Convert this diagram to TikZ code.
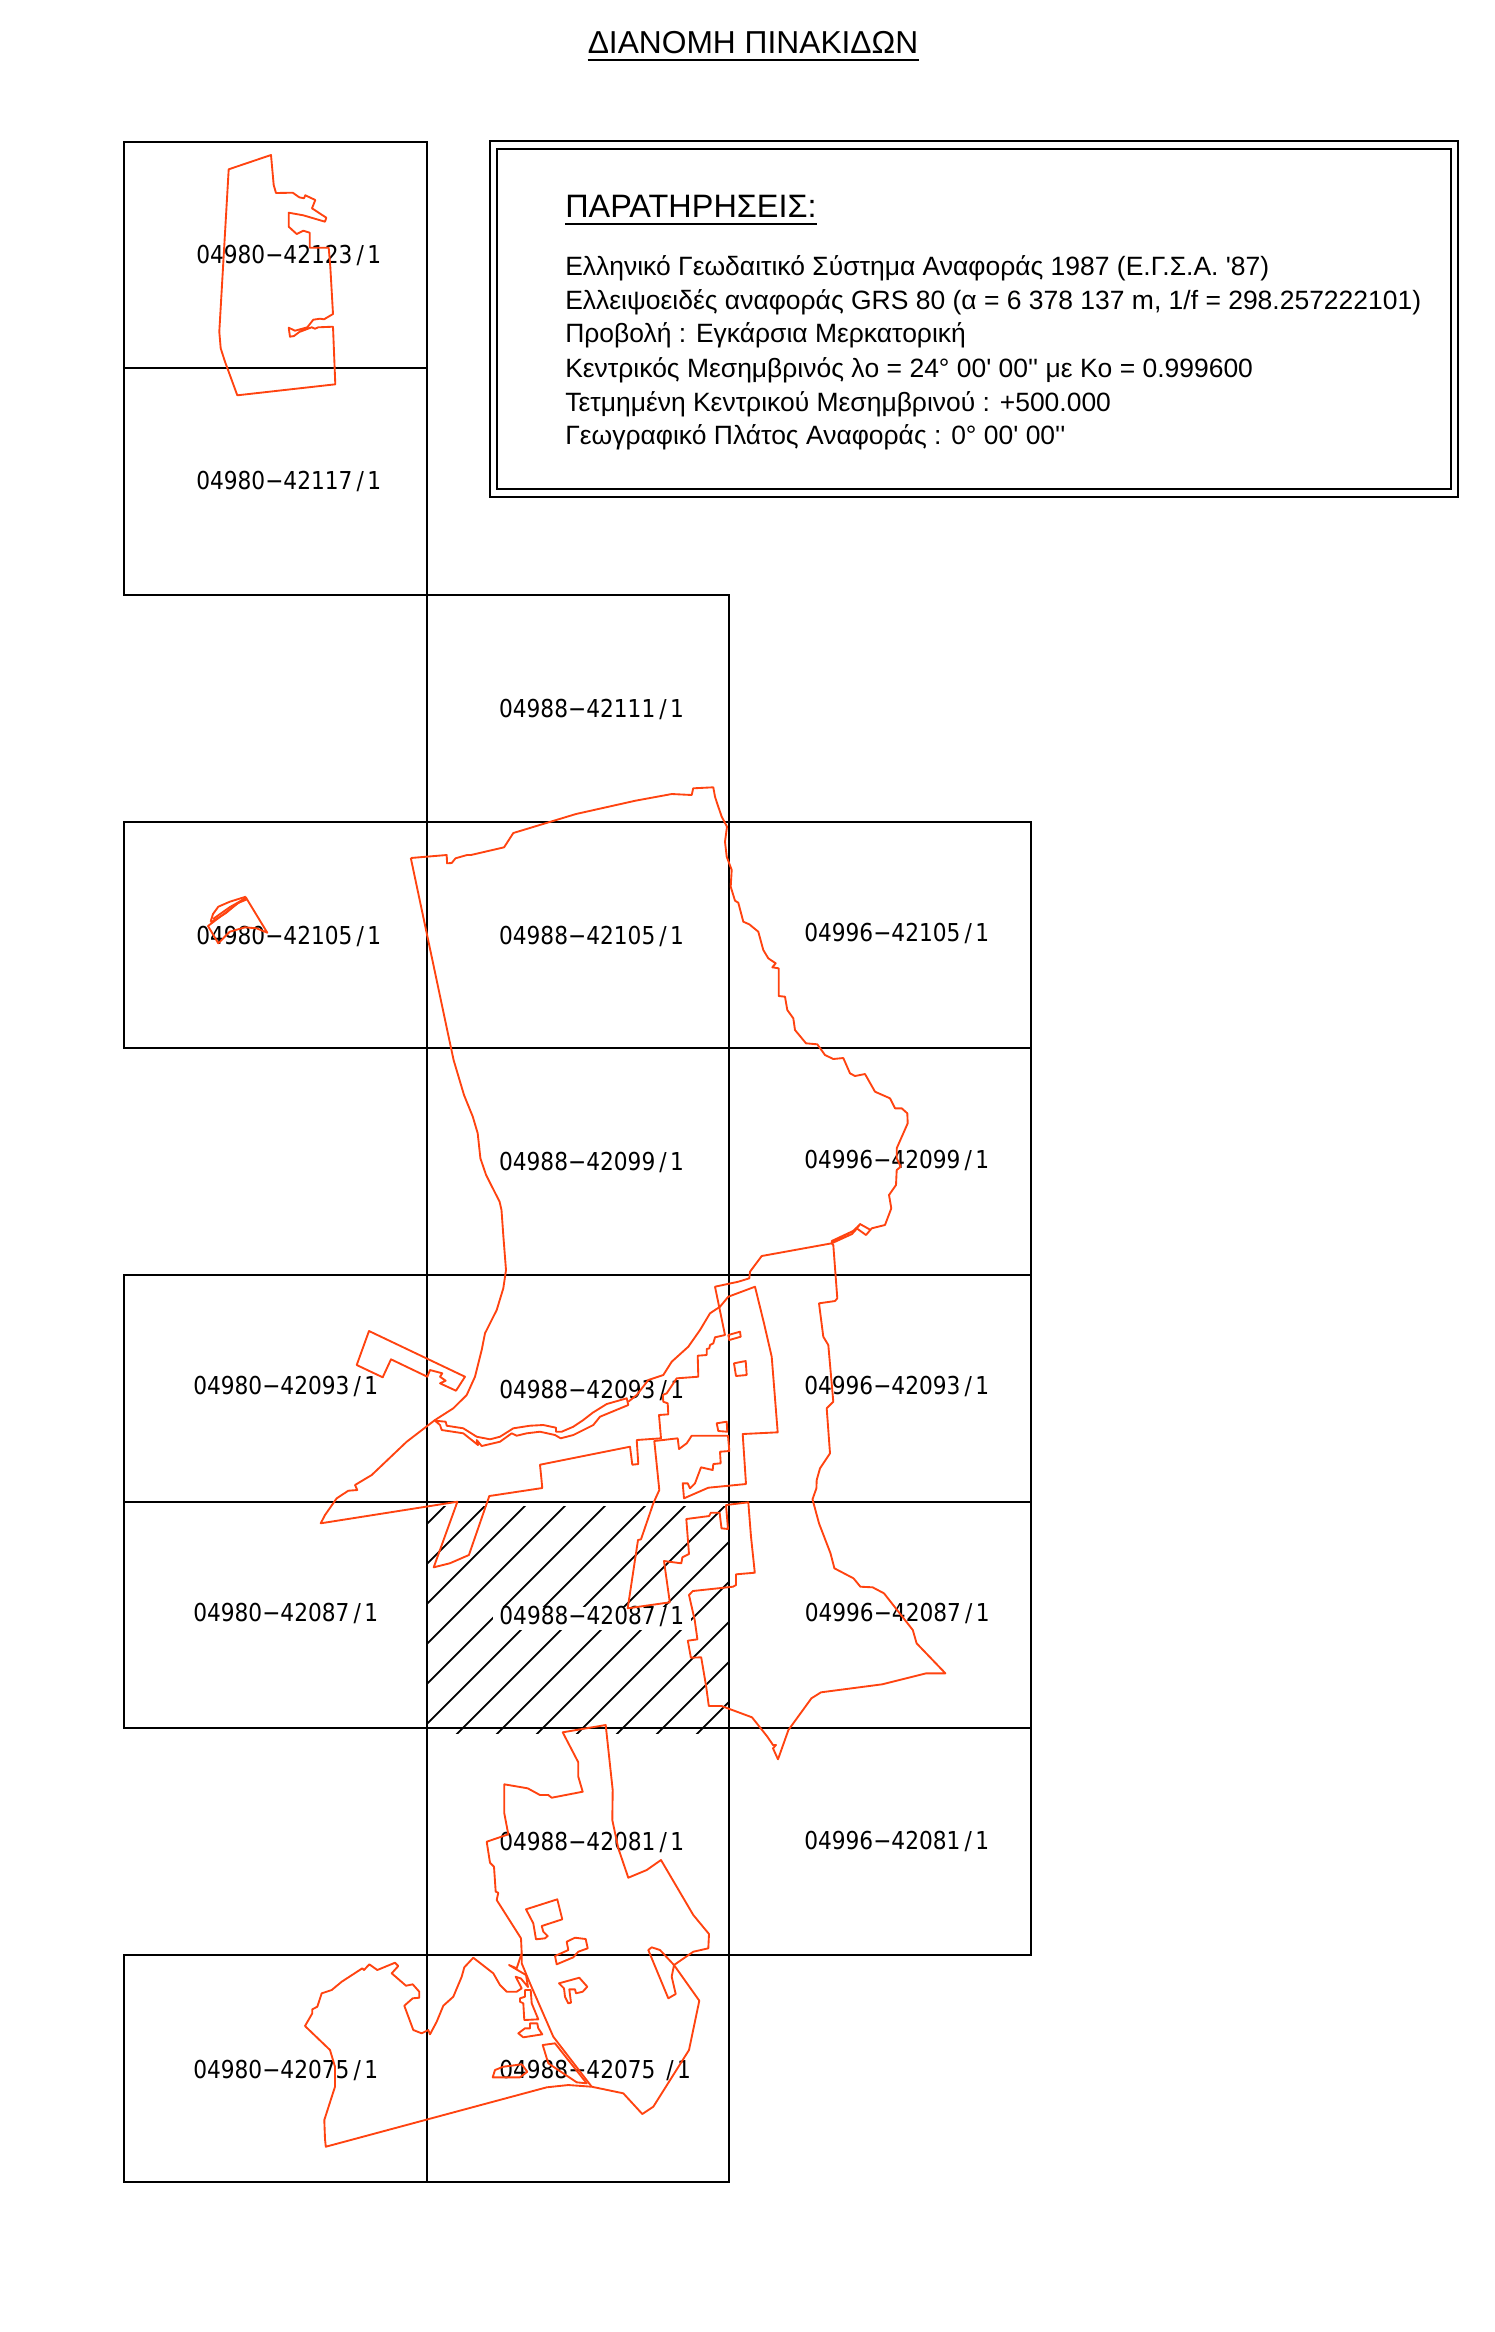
\documentclass[tikz,border=0pt]{standalone}
\usepackage{fontspec}
\newfontfamily\notefont{Liberation Sans}
\newfontfamily\cadfont[FakeStretch=0.88]{DejaVu Sans}
\definecolor{borderred}{HTML}{FF4310}
\newcommand{\sheetno}[1]{#1\hspace{3pt}/\hspace{2.6pt}1}
\tikzset{
  sheet/.style={draw=black,line width=1.5pt},
  hatchline/.style={draw=black,line width=1.4pt},
  border/.style={draw=borderred,line width=1.4pt,line join=round},
  sheetlabel/.style={anchor=base west,yshift=-6.75pt,inner sep=0pt,font=\cadfont\fontsize{18.5}{22}\selectfont},
  notetext/.style={anchor=base west,inner sep=0pt,font=\notefont\fontsize{19.85}{24}\selectfont},
  headtext/.style={anchor=base west,inner sep=0pt,font=\notefont\fontsize{24.3}{28}\selectfont},
  titletext/.style={anchor=base west,inner sep=0pt,font=\notefont\fontsize{23.8}{28}\selectfont}
}
\begin{document}
\begin{tikzpicture}[x=0.75pt,y=-0.75pt]
    \useasboundingbox (0,0) rectangle (1495,2332);
    %Title
    \node[titletext] (title) at (587.5,53) {ΔΙΑΝΟΜΗ ΠΙΝΑΚΙΔΩΝ};
    \draw[line width=1.4pt] ([yshift=-5pt]title.base west)--([yshift=-5pt]title.base east);
    %Sheets
    \foreach \x/\y in{
    124.2/141.5, 124.2/368.2, 426.5/594.9, 124.2/821.6, 426.5/821.6, 728.8/821.6,
    426.5/1048.3, 728.8/1048.3, 124.2/1275, 426.5/1275, 728.8/1275,
    124.2/1501.7, 426.5/1501.7, 728.8/1501.7, 426.5/1728.4, 728.8/1728.4,
    124.2/1955.1, 426.5/1955.1
    }{\draw[sheet] (\x,\y) rectangle ++(302.3,226.7);}
    %Hatching
    \begin{scope}
    \clip (426.5,1506) rectangle (728.8,1733);
    \foreach \k in {0,...,12}{
    \draw[hatchline] ({1950.8+40*\k-1400},1400)--({1950.8+40*\k-1800},1800);}
    \end{scope}
    %Sheet labels
    \foreach \x/\y/\t [count=\i] in{
    196/254/04980−42123, 196/480.5/04980−42117, 498.8/708/04988−42111,
    196/935/04980−42105, 498.8/935/04988−42105, 804/932/04996−42105,
    498.8/1161.7/04988−42099, 804/1159/04996−42099,
    193/1385/04980−42093, 499/1389/04988−42093, 804/1385.7/04996−42093,
    193/1612.6/04980−42087, 804.5/1612/04996−42087,
    499/1841.7/04988−42081, 804/1840/04996−42081,
    193/2069/04980−42075, 499/2069/04988−42075
    }{\node[sheetlabel] (sheet\i) at (\x,\y) {\sheetno{\t}};}
    \node[sheetlabel,fill=white,inner xsep=5pt,text height=12.75pt,text depth=4.5pt] (hatched) at (492.5,1615) {\sheetno{04988−42087}};
    %Notes box
    \draw[sheet] (489.6,141) rectangle (1457.7,496.7);
    \draw[sheet] (497.2,149) rectangle (1450.7,489);
    \node[headtext] (notehead) at (565,217) {ΠΑΡΑΤΗΡΗΣΕΙΣ:};
    \draw[line width=1.4pt] ([yshift=-5pt]notehead.base west)--([yshift=-5pt]notehead.base east);
    \foreach \y/\t [count=\i] in{
    275.3/{Ελληνικό Γεωδαιτικό Σύστημα Αναφοράς 1987 (Ε.Γ.Σ.Α. '87)},
    309/{Ελλειψοειδές αναφοράς GRS 80 (α = 6 378 137 m, 1/f = 298.257222101)},
    342.7/{Προβολή : Εγκάρσια Μερκατορική},
    377/{Κεντρικός Μεσημβρινός λo = 24° 00' 00'' με Ko = 0.999600},
    411/{Τετμημένη Κεντρικού Μεσημβρινού : +500.000},
    444/{Γεωγραφικό Πλάτος Αναφοράς : 0° 00' 00''}
    }{\node[notetext] (note\i) at (565,\y) {\t};}
    %Top parcel
    \draw[border] (228.7,169.3)--(271,155)--(273.7,185)--(276,193)--(292.7,192.7)--(299.3,197.3)--(304,198.3)--(305.3,195.3)--(315.3,200)--(312,208.3)--(326.3,217.7)--(325,221.7)--(303.3,215.3)--(288.7,212.7)--(288.7,226.7)--(296.7,234)--(303.3,230.7)--(309.7,232.7)--(309.7,247.7)--(328.7,247.7)--(330.3,266.7)--(333,314)--(324,319.3)--(320,318.7)--(313.3,319.7)--(307.3,327.3)--(295,330.7)--(288.7,327.7)--(290,336.7)--(294,336)--(299.3,332)--(311.7,327.3)--(315,328.7)--(318.3,327.3)--(333,326.7)--(335.3,384.3)--(237.3,395.3)--(225,361.7)--(220.7,348.3)--(219.3,331.7)--cycle;
    %Small island
    \draw[border] (208,926)--(245.8,897.3)--(267.3,932.7)--(256.5,928.3)--(245,927.3)--(229.8,931.7)--(218.3,943.3)--cycle;
    \draw[border] (210.6,921.7)--(213,914)--(218.3,906.7)--(229.8,901.7)--(245.8,896.7);
    \draw[border] (210.6,922.5)--(226,913)--(237.4,903.3)--(247,899.3);
    \draw[border] (213,919)--(230,907)--(246,898);
    %North boundary
    \draw[border] (410.8,858)--(446.7,855)--(447.1,863.3)--(451.7,863)--(455.5,858.3)--(467,855)--(470.9,855)--(504.1,847.3)--(513.3,833)--(576,814)--(635.4,800.7)--(671.8,794)--(691.7,795)--(693.2,788.3)--(713.3,787.3)--(715,796.7)--(717.7,805)--(721.7,816.7)--(727,826.7)--(725,841.7)--(726.7,856.7)--(731.7,870)--(730.7,886.7)--(735,900.7)--(738.3,902.7)--(743.3,921.7)--(749.3,924.3)--(758.3,931.7)--(763.3,950)--(768.3,958.3)--(775.7,963.3)--(772.3,967.3)--(778.7,968.3)--(778.7,996)--(785,996.7)--(787.3,1010)--(793.3,1018.3)--(795,1030)--(806,1043.3)--(817.3,1044.3)--(825,1055)--(833.3,1059)--(843.3,1058)--(850,1073.3)--(855,1076)--(865,1074)--(875,1091.7)--(890,1098.3)--(895,1108.3)--(901.7,1108.3)--(907.3,1113.3)--(907.7,1123.3)--(896.7,1148.3)--(896.7,1158.3)--(900.7,1166.7)--(896.7,1170)--(896,1185)--(889,1195)--(891.3,1208.3)--(885,1225)--(871.7,1228.3)--(866,1235)--(856.7,1228.3)--(860,1224)--(870.7,1230);
    \draw[border] (859,1225.5)--(853,1231)--(831.7,1241)--(831.7,1243.3)--(852,1234)--(857,1228.5);
    \draw[border] (831.7,1243.3)--(761.7,1256)--(750,1271.7)--(749.3,1278.3)--(738.3,1281.7)--(715,1286.7)--(725,1335)--(715,1337.3)--(713.3,1343.3)--(710,1345)--(709.3,1348.3)--(706.7,1349)--(706.7,1355)--(697.7,1355.7)--(698.3,1376.7)--(676.7,1378.3)--(666.7,1393.3)--(662.7,1395)--(663.3,1401.7)--(667.7,1403.3)--(668.3,1414.3)--(659,1415)--(661,1438.3)--(636.7,1440)--(638.3,1464)--(632.3,1464.7)--(630,1446.7)--(540,1464.7)--(542.3,1488)--(489.3,1496)--(468.9,1555)--(449.8,1563.3)--(433.7,1567.3)--(457.4,1501.7)--(320.7,1523.3)--(325,1515)--(336.7,1498.3)--(348.3,1490.7)--(357.3,1490)--(355,1485)--(371.7,1475)--(406.7,1441.7)--(435,1420)--(453.3,1408.3)--(466.7,1395)--(475,1376.7)--(481.7,1350)--(485,1333.3)--(496.7,1310)--(503.3,1288.3)--(506,1270)--(503.4,1236.7)--(501.5,1210)--(499.6,1201.7)--(486.1,1175)--(480.4,1158.3)--(477.7,1133.3)--(472.8,1116.7)--(464,1095)--(453.6,1060)--(447.9,1033.3)--(410.8,858);
    %Left block
    \draw[border] (369,1331)--(465,1376.7)--(456,1390.7)--(440,1383.3)--(445.7,1380.7)--(440,1376.7)--(442.3,1373.3)--(430,1370)--(427.3,1376.7)--(391,1359.3)--(382.7,1377.3)--(356.7,1365)--cycle;
    %River strip
    \draw[border] (435,1420.7)--(445.7,1421.7)--(446.7,1425.7)--(463.3,1428.3)--(476.7,1436.7)--(490,1439.3)--(500,1436.7)--(513.3,1428.3)--(530,1425.7)--(543.3,1425)--(556,1427.7)--(556,1431.7)--(561.7,1431.7)--(573.3,1426.7)--(583.3,1420)--(592.7,1412.7)--(606.7,1404)--(626.7,1398.3)--(628.3,1405)--(600,1416.7)--(593.3,1425)--(573.3,1435)--(560.7,1438.3)--(555,1435)--(540,1431.7)--(526.7,1433.3)--(516.7,1435.7)--(511.7,1433.3)--(500,1441.7)--(481.7,1446)--(476.7,1440)--(478,1445)--(463.3,1433.3)--(441.7,1430)--(440,1425)--cycle;
    %Eastern boundary
    \draw[border] (628.3,1401.7)--(636.7,1395)--(648.3,1380)--(663.3,1375)--(671.7,1361.7)--(688.3,1346.7)--(700,1330)--(710,1313.3)--(720,1306.7)--(728.3,1296.7)--(755,1286.7)--(764,1323.3)--(771.7,1356.7)--(777.7,1432.3)--(742.7,1434)--(746,1484)--(708.3,1487.7)--(684,1498.3)--(682.7,1483.3)--(687.7,1483.3)--(690,1488.3)--(695,1483.3)--(701,1467.3)--(712.7,1470)--(713.3,1464)--(720.7,1463.3)--(720,1451.7)--(729.3,1451)--(728,1435.7)--(691.7,1435.7)--(686.7,1443.3)--(679,1449)--(677.7,1438.3)--(654.3,1441)--(659.3,1490)--(653.3,1503.3)--(641,1539.3)--(638,1540)--(627.7,1608.3)--(669.8,1602.3)--(664,1561)--(681.3,1563.3)--(682.4,1557.3)--(689,1554)--(686.3,1519)--(709.2,1516)--(710.8,1512.7)--(719.6,1512.7)--(721.5,1528.3)--(728,1529)--(726,1505)--(748.3,1502.3)--(751,1536.7)--(754.8,1572.7)--(736,1574.3)--(736,1585)--(733,1586.7)--(692.8,1591)--(689,1595)--(694.7,1620)--(697.4,1639.3)--(687.8,1640.7)--(690.9,1657.7)--(701.2,1657.3)--(706.2,1686.7)--(708.8,1706)--(721.5,1706)--(752,1717.3)--(767.4,1736.7)--(773,1745)--(776,1745)--(773,1748.3)--(778,1759.3)--(788.4,1730)--(811.4,1698.3)--(821,1692.3)--(882.2,1684.3)--(926.2,1673.3)--(945.4,1673.3)--(916.6,1643.3)--(912.8,1630)--(884,1593.3)--(872.6,1587.3)--(860.4,1586.7)--(853.5,1578.3)--(834.4,1568.3)--(830.5,1553.3)--(819,1523.3)--(812.5,1499.3)--(816.4,1488.3)--(816.7,1480)--(820,1468.3)--(830,1453.3)--(826.7,1408.3)--(833.3,1401.7)--(828.3,1345)--(823.3,1336.7)--(819,1303.3)--(835,1301)--(837.3,1298.3)--(833.3,1245)--(831.7,1243.3);
    %Small plots
    \draw[border] (728.3,1335)--(740,1331.7)--(740.7,1336.7)--(729.3,1340)--cycle;
    \draw[border] (734,1363.3)--(745.7,1361)--(746.7,1375)--(736,1376)--cycle;
    \draw[border] (716.7,1423.3)--(726.7,1421.7)--(727.3,1431.7)--(718.3,1431)--cycle;
    %South block
    \draw[border] (562.7,1732.3)--(605.7,1725)--(612.7,1790)--(612.3,1820)--(618.3,1848.3)--(628.3,1877.7)--(646.7,1870)--(661,1860)--(693.3,1915)--(709,1934)--(708.3,1948.3)--(693.3,1951.7)--(674,1965)--(660,1950)--(651.7,1947.3)--(648.3,1950)--(668.3,1998.3)--(675.7,1994)--(671.7,1976.7)--(674,1965)--(699.3,2000.7)--(689,2050)--(653.3,2106.7)--(642.3,2114)--(623.3,2093.3)--(591.7,2086.7)--(568.3,2085)--(546.7,2087.3)--(325.8,2146.7)--(325,2139)--(324.3,2120)--(335,2086.7)--(335,2066.7)--(330,2050)--(305,2026)--(312.3,2013.3)--(312.3,2009.3)--(317.3,2006.7)--(321.7,1993.3)--(331.7,1990)--(341.7,1981.7)--(362.3,1968.3)--(364,1970)--(369.3,1964.3)--(377.3,1970)--(395,1962.7)--(398.3,1966)--(391.7,1973.3)--(406,1985.7)--(412.7,1984.3)--(419.3,1991.7)--(419.3,1997.7)--(412.7,1998.3)--(404.3,2005.7)--(413.3,2030)--(421.7,2033.3)--(428.3,2030)--(430,2034.3)--(436.7,2021.7)--(443.3,2005.7)--(453.3,1996.7)--(461.7,1976.7)--(464.3,1967.3)--(473.3,1957.7)--(493.3,1973.3)--(500,1985)--(506.7,1991.7)--(516.7,1991.7)--(521.7,1988.3)--(515.7,1976.7)--(521,1978.5)--(528,1987)--(526,1975)--(509,1965)--(516.7,1968.3)--(521.7,1953.3)--(521,1938.3)--(496.7,1900)--(498.3,1892.7)--(495.7,1891.7)--(494,1866.7)--(490,1862.7)--(486.7,1841.7)--(508.3,1834.3)--(504.3,1813.3)--(504.3,1784.3)--(527.7,1788.3)--(540,1795)--(548.3,1795)--(551.7,1797.7)--(582.7,1791.7)--(578.3,1776.7)--(578.3,1762.3)--cycle;
    \draw[border] (521.7,1953.3)--(521.7,1963.3)--(530,1983.3)--(553.3,2036.7)--(591.7,2086.7);
    \draw[border] (542.7,2045)--(555,2043.3)--(586.7,2083.3)--(576.7,2082.3)--(548.3,2063.3)--cycle;
    \draw[border] (492.7,2077.3)--(495,2070)--(503.3,2066.7)--(521.7,2064.3)--(527.3,2071.7)--(520,2077.3)--cycle;
    \draw[border] (525,1990)--(530.7,1990)--(531.7,2003.3)--(538.3,2019.3)--(524.3,2020)--(523.3,2003.3)--(520,2001.7)--(520,1998.3)--(525,1996.7)--cycle;
    \draw[border] (518.3,2033.3)--(525,2028.3)--(530,2028.3)--(530,2023.3)--(537.3,2023.3)--(538.3,2028.3)--(542.3,2034.3)--(523.3,2037.3)--cycle;
    \draw[border] (526,1909.3)--(557.3,1899.3)--(562.3,1919.3)--(541.7,1926)--(543.3,1931.7)--(547.7,1936)--(545,1938.3)--(536,1939.3)--(533.3,1923.3)--cycle;
    \draw[border] (555,1956)--(568.3,1950)--(566.7,1941.7)--(575,1937.7)--(585.7,1939)--(587.7,1948.3)--(578.3,1951.7)--(573.3,1957.3)--(556.7,1964.3)--cycle;
    \draw[border] (559,1983.3)--(579.3,1977.7)--(587.3,1986.7)--(582.7,1991.7)--(576,1993.3)--(575,1989.3)--(569.3,1989.3)--(571,2002.7)--(568.3,2003.3)--(565,1996.7)--(564,1988.3)--cycle;
\end{tikzpicture}
\end{document}
